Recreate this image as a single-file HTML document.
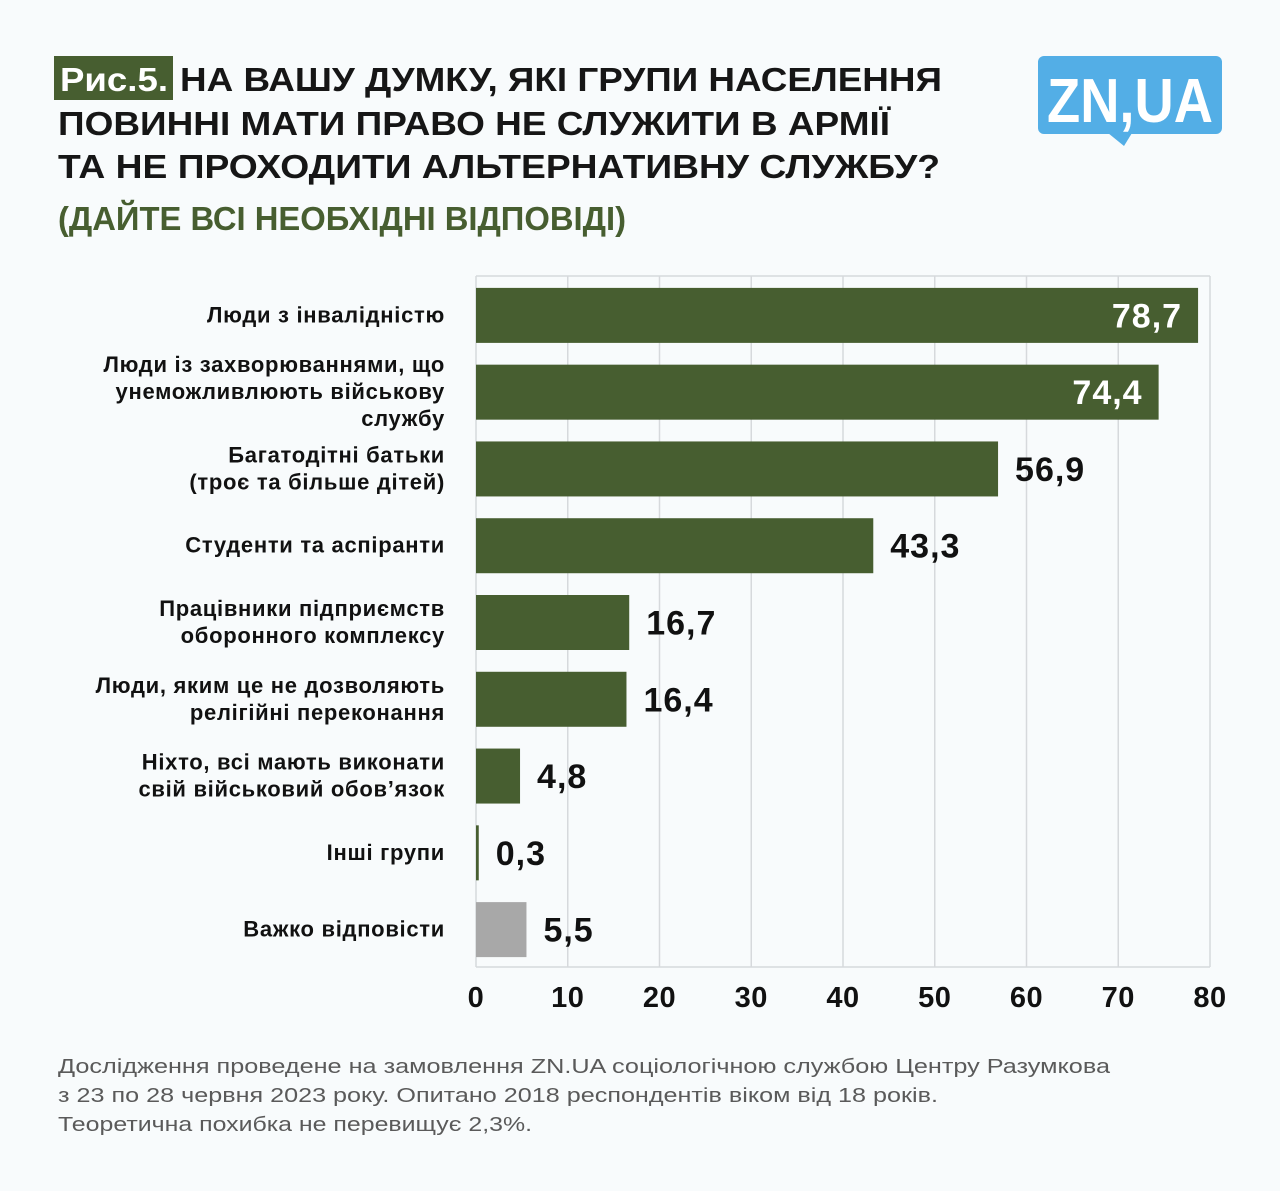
<!DOCTYPE html>
<html><head><meta charset="utf-8"><style>
body{margin:0;background:#f8fbfc;}
svg{display:block;font-family:"Liberation Sans","DejaVu Sans",sans-serif;}
</style></head><body>
<svg id="chart" width="1280" height="1191" viewBox="0 0 1280 1191">
<rect x="0" y="0" width="1280" height="1191" fill="#f8fbfc"/>
<g font-weight="bold" font-size="33" fill="#161616">
<rect x="54" y="56" width="119" height="44" fill="#475e30"/>
<text x="60" y="91" fill="#ffffff" textLength="108" lengthAdjust="spacingAndGlyphs">Рис.5.</text>
<text x="180" y="91" textLength="762" lengthAdjust="spacingAndGlyphs">НА ВАШУ ДУМКУ, ЯКІ ГРУПИ НАСЕЛЕННЯ</text>
<text x="58" y="135" textLength="832" lengthAdjust="spacingAndGlyphs">ПОВИННІ МАТИ ПРАВО НЕ СЛУЖИТИ В АРМІЇ</text>
<text x="58" y="178" textLength="882" lengthAdjust="spacingAndGlyphs">ТА НЕ ПРОХОДИТИ АЛЬТЕРНАТИВНУ СЛУЖБУ?</text>
<text x="58" y="230" fill="#475e30" textLength="568" lengthAdjust="spacingAndGlyphs">(ДАЙТЕ ВСІ НЕОБХІДНІ ВІДПОВІДІ)</text>
</g>
<g>
<rect x="1038" y="56" width="184" height="78" rx="6" fill="#53aee6"/>
<polygon points="1108,133 1132,133 1124,146" fill="#53aee6"/>
<text x="1130" y="122" text-anchor="middle" fill="#fff" font-size="62" font-weight="bold" textLength="166" lengthAdjust="spacingAndGlyphs">ZN,UA</text>
</g>
<g id="grid"></g>
<g id="bars"></g>
<g id="labels"></g>
<g id="xticks"></g>
<g font-size="20.5" fill="#5a5a5a">
<text x="58" y="1073" textLength="1052" lengthAdjust="spacingAndGlyphs">Дослідження проведене на замовлення ZN.UA соціологічною службою Центру Разумкова</text>
<text x="58" y="1102" textLength="880" lengthAdjust="spacingAndGlyphs">з 23 по 28 червня 2023 року. Опитано 2018 респондентів віком від 18 років.</text>
<text x="58" y="1131" textLength="474" lengthAdjust="spacingAndGlyphs">Теоретична похибка не перевищує 2,3%.</text>
</g>
</svg>
<script>
const categories=[["Люди з інвалідністю"],["Люди із захворюваннями, що","унеможливлюють військову","службу"],["Багатодітні батьки","(троє та більше дітей)"],["Студенти та аспіранти"],["Працівники підприємств","оборонного комплексу"],["Люди, яким це не дозволяють","релігійні переконання"],["Ніхто, всі мають виконати","свій військовий обов’язок"],["Інші групи"],["Важко відповісти"]];
const values=[78.7,74.4,56.9,43.3,16.7,16.4,4.8,0.3,5.5];
const valueLabels=["78,7","74,4","56,9","43,3","16,7","16,4","4,8","0,3","5,5"];
const ticks=[0,10,20,30,40,50,60,70,80];
const NS="http://www.w3.org/2000/svg";
const x0=476,x1=1210,xMax=80,yTop=276,yBottom=967;
const xs=v=>x0+(x1-x0)*v/xMax;
const step=(yBottom-yTop)/values.length;
const bh=55;
function mk(tag,attrs,parent){const e=document.createElementNS(NS,tag);for(const k in attrs)e.setAttribute(k,attrs[k]);parent.appendChild(e);return e;}
const grid=document.getElementById('grid');
ticks.forEach(t=>{
 const l=mk('line',{x1:xs(t),x2:xs(t),y1:yTop,y2:yBottom,stroke:'#d6d9dc','stroke-width':1.5},grid);
 
 
 const tx=mk('text',{x:xs(t),y:1007,'text-anchor':'middle','font-size':29,'font-weight':'bold','letter-spacing':0.5,fill:'#111'},document.getElementById('xticks'));
 tx.textContent=t;
 
 
});
mk('line',{x1:x0,x2:x1,y1:yTop,y2:yTop,stroke:'#d6d9dc','stroke-width':1.5},grid);
mk('line',{x1:x0,x2:x1,y1:yBottom,y2:yBottom,stroke:'#d6d9dc','stroke-width':1.5},grid);
const bars=document.getElementById('bars'),labs=document.getElementById('labels');
values.forEach((v,i)=>{
 const cy=yTop+step*i+step/2+1;
 const w=Math.max(xs(v)-x0,2);
 const r=mk('rect',{x:x0,y:cy-bh/2,width:w,height:bh,fill:i===values.length-1?'#a8a8a8':'#475e30'},bars);
 
 
 const inside=v>70;
 const t=mk('text',{x:inside?xs(v)-16:xs(v)+17,y:cy+12,'text-anchor':inside?'end':'start','font-size':34,'font-weight':'bold','letter-spacing':1,fill:inside?'#fff':'#111'},bars);
 t.textContent=valueLabels[i];
 
 
 const lines=categories[i],lh=27;
 lines.forEach((s,j)=>{
  const lt=mk('text',{x:445,y:cy+7+(j-(lines.length-1)/2)*lh,'text-anchor':'end','font-size':22,'font-weight':'bold','letter-spacing':0.7,fill:'#111'},labs);
  lt.textContent=s;
  
  
 });
});
</script>
</body></html>
